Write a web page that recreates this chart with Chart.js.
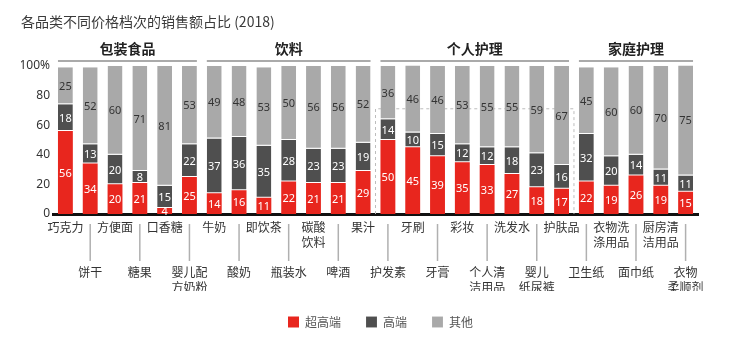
<!DOCTYPE html>
<html>
<head>
<meta charset="utf-8">
<script src="https://cdn.jsdelivr.net/npm/chart.js@4"></script>
<style>
  html, body { margin: 0; padding: 0; background: #fff; }
  #wrap { width: 736px; height: 342px; }
</style>
</head>
<body>
<div id="wrap"><canvas id="chart"></canvas></div>
<script>
const categories = ['巧克力', '饼干', '方便面', '糖果', '口香糖', '婴儿配\n方奶粉',
  '牛奶', '酸奶', '即饮茶', '瓶装水', '碳酸\n饮料', '啤酒', '果汁',
  '护发素', '牙刷', '牙膏', '彩妆', '个人清\n洁用品', '洗发水', '婴儿\n纸尿裤', '护肤品',
  '卫生纸', '衣物洗\n涤用品', '面巾纸', '厨房清\n洁用品', '衣物\n柔顺剂'];
const superHigh = [56, 34, 20, 21, 4, 25, 14, 16, 11, 22, 21, 21, 29, 50, 45, 39, 35, 33, 27, 18, 17, 22, 19, 26, 19, 15];
const high = [18, 13, 20, 8, 15, 22, 37, 36, 35, 28, 23, 23, 19, 14, 10, 15, 12, 12, 18, 23, 16, 32, 20, 14, 11, 11];
const others = [25, 52, 60, 71, 81, 53, 49, 48, 53, 50, 56, 56, 52, 36, 46, 46, 53, 55, 55, 59, 67, 45, 60, 60, 70, 75];
const seriesNames = ['超高端', '高端', '其他'];
const groupNames = ['包装食品', '饮料', '个人护理', '家庭护理'];
const groupSizes = [6, 7, 8, 5];
const yTicks = [0, 20, 40, 60, 80, 100];
const dashedGroup = 2;     // 个人护理 has a dashed frame
const dashedLevel = 71;

const colors = ['#e8261e', '#4f4f4f', '#a9a9a9'];
const labelColors = ['#ffffff', '#ffffff', '#333333'];

const valueLabels = {
  id: 'valueLabels',
  afterDatasetsDraw(chart) {
    const ctx = chart.ctx;
    ctx.save();
    ctx.font = '11px "Noto Sans", sans-serif';
    ctx.textAlign = 'center';
    ctx.textBaseline = 'middle';
    chart.data.datasets.forEach((ds, i) => {
      const meta = chart.getDatasetMeta(i);
      ctx.fillStyle = labelColors[i];
      meta.data.forEach((bar, j) => {
        ctx.fillText(ds.data[j], bar.x, (bar.y + bar.base) / 2 + 1);
      });
    });
    ctx.restore();
  }
};

// legend sits a bit right of the canvas centre
const legendShift = {
  id: 'legendShift',
  afterLayout(chart) {
    chart.legend.left += 21;
    chart.legend.right += 21;
  }
};

const groupHeaders = {
  id: 'groupHeaders',
  beforeDatasetsDraw(chart) {
    const ctx = chart.ctx;
    const x = chart.scales.x, y = chart.scales.y;
    // dashed frame
    let s = 0;
    for (let g = 0; g < dashedGroup; g++) s += groupSizes[g];
    const e = s + groupSizes[dashedGroup] - 1;
    const l = (x.getPixelForValue(s - 1) + x.getPixelForValue(s)) / 2;
    const r = (x.getPixelForValue(e) + x.getPixelForValue(e + 1)) / 2;
    const t = y.getPixelForValue(dashedLevel);
    ctx.save();
    ctx.strokeStyle = '#bdbdbd';
    ctx.lineWidth = 1;
    ctx.setLineDash([3, 3]);
    ctx.beginPath();
    ctx.moveTo(l, y.bottom);
    ctx.lineTo(l, t);
    ctx.lineTo(r, t);
    ctx.lineTo(r, y.bottom);
    ctx.stroke();
    ctx.restore();
  },
  afterDraw(chart) {
    const ctx = chart.ctx;
    const x = chart.scales.x;
    const bars = chart.getDatasetMeta(0).data;
    let start = 0;
    ctx.save();
    groupNames.forEach((name, g) => {
      const end = start + groupSizes[g] - 1;
      const half = bars[start].width / 2;
      const left = x.getPixelForValue(start) - half;
      const right = x.getPixelForValue(end) + half;
      ctx.strokeStyle = '#aaaaaa';
      ctx.lineWidth = 2;
      ctx.beginPath();
      ctx.moveTo(left, 61);
      ctx.lineTo(right, 61);
      ctx.stroke();
      ctx.fillStyle = '#222';
      ctx.font = 'bold 14px "Noto Sans CJK SC", sans-serif';
      ctx.textAlign = 'center';
      ctx.textBaseline = 'middle';
      ctx.fillText(name, (left + right) / 2, 49);
      start = end + 1;
    });
    // tick lines for the lower label row
    ctx.strokeStyle = '#b0b0b0';
    ctx.lineWidth = 1.5;
    for (let i = 1; i < categories.length; i += 2) {
      const px = x.getPixelForValue(i);
      ctx.beginPath();
      ctx.moveTo(px, x.top + 10);
      ctx.lineTo(px, x.top + 47);
      ctx.stroke();
    }
    ctx.restore();
  }
};

const ctx = document.getElementById('chart').getContext('2d');
new Chart(ctx, {
  type: 'bar',
  data: {
    labels: categories,
    datasets: [superHigh, high, others].map((d, i) => ({
      label: seriesNames[i],
      data: d,
      backgroundColor: colors[i],
      borderColor: 'rgba(255,255,255,0.5)',
      borderWidth: i === 0 ? 0 : { bottom: 1 },
      borderSkipped: false,
      categoryPercentage: 1,
      barPercentage: 0.6
    }))
  },
  options: {
    responsive: true,
    maintainAspectRatio: false,
    animation: false,
    layout: { padding: { left: 21, right: 38, top: 0, bottom: 4 } },
    scales: {
      x: {
        stacked: true,
        grid: { display: false, drawTicks: false },
        border: { display: true, color: '#111', width: 3 },
        ticks: {
          autoSkip: false,
          maxRotation: 0,
          padding: 6,
          color: '#333',
          font: { size: 12, family: '"Noto Sans CJK SC", sans-serif', lineHeight: 1.25 },
          callback: (v, i) => {
            const lines = categories[i].split('\n');
            return i % 2 === 1 ? ['', '', ''].concat(lines) : lines;
          }
        },
        afterFit: (s) => { s.height = 77; }
      },
      y: {
        stacked: true,
        min: 0,
        max: 100,
        grid: { display: false, drawTicks: false },
        border: { display: false },
        afterBuildTicks: (s) => { s.ticks = yTicks.map(v => ({ value: v })); },
        ticks: {
          padding: 3,
          color: '#333',
          font: { size: 12, family: '"Noto Sans", sans-serif' },
          callback: (v) => v === 100 ? '100%' : v
        },
        afterFit: (s) => { s.width = 32; }
      }
    },
    plugins: {
      title: {
        display: true,
        text: '各品类不同价格档次的销售额占比 (2018)',
        align: 'start',
        color: '#3a3a3a',
        font: { size: 14, weight: 'normal', family: '"Noto Sans CJK SC", sans-serif' },
        padding: { top: 13, bottom: 36 }
      },
      legend: {
        position: 'bottom',
        labels: {
          boxWidth: 11,
          boxHeight: 11,
          padding: 25,
          color: '#555',
          font: { size: 12, family: '"Noto Sans CJK SC", sans-serif' }
        }
      },
      tooltip: { enabled: false }
    }
  },
  plugins: [valueLabels, groupHeaders, legendShift]
});
</script>
</body>
</html>
